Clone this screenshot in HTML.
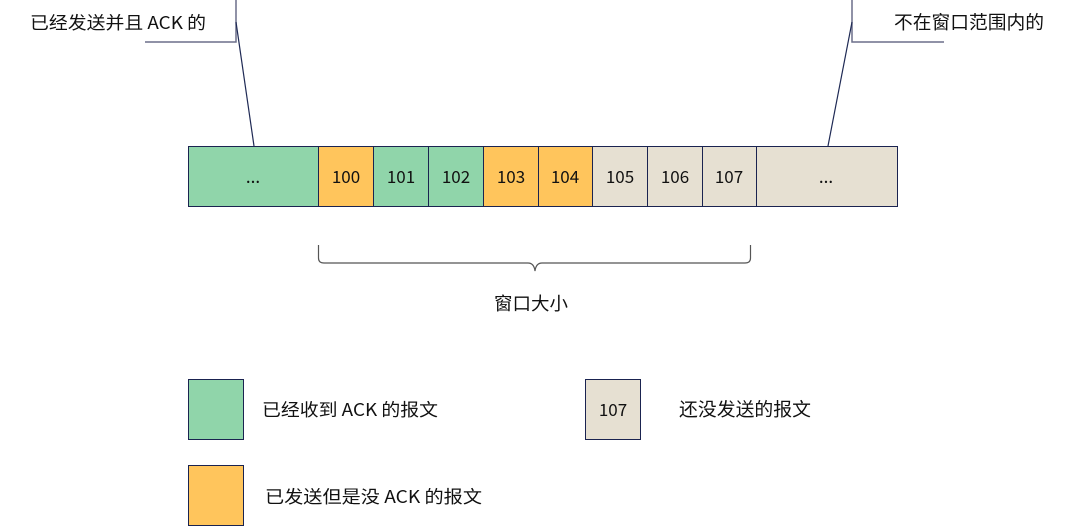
<!DOCTYPE html>
<html><head><meta charset="utf-8"><style>
body{margin:0;width:1088px;height:527px;background:#fff;overflow:hidden;}
</style></head><body>
<svg width="1088" height="527" xmlns="http://www.w3.org/2000/svg" style="position:absolute;left:0;top:0" font-family="Noto Sans CJK SC, Liberation Sans, sans-serif" font-size="18">
<g stroke="#6b6f8a" stroke-width="1.5" fill="none">
<polyline points="145,42 236,42 236,0"/>
<polyline points="944,42 852,42 852,0"/>
</g>
<g stroke="#1f2a55" stroke-width="1.2">
<line x1="236" y1="22" x2="254" y2="146"/>
<line x1="852" y1="22" x2="828" y2="146"/>
</g>
<text x="30" y="29" fill="#111" font-size="17.5" textLength="176" lengthAdjust="spacingAndGlyphs">已经发送并且 ACK 的</text>
<text x="894" y="29" fill="#111" font-size="18.5" textLength="150" lengthAdjust="spacingAndGlyphs">不在窗口范围内的</text>
<g stroke="#1a2350" stroke-width="1">
<rect x="188.5" y="146.5" width="130" height="60" fill="#90d5aa"/>
<rect x="318.5" y="146.5" width="55" height="60" fill="#ffc55c"/>
<rect x="373.5" y="146.5" width="55" height="60" fill="#90d5aa"/>
<rect x="428.5" y="146.5" width="55" height="60" fill="#90d5aa"/>
<rect x="483.5" y="146.5" width="55" height="60" fill="#ffc55c"/>
<rect x="538.5" y="146.5" width="54" height="60" fill="#ffc55c"/>
<rect x="592.5" y="146.5" width="55" height="60" fill="#e6e0d2"/>
<rect x="647.5" y="146.5" width="55" height="60" fill="#e6e0d2"/>
<rect x="702.5" y="146.5" width="54" height="60" fill="#e6e0d2"/>
<rect x="756.5" y="146.5" width="141" height="60" fill="#e6e0d2"/>
<rect x="188.5" y="379.5" width="55" height="60" fill="#90d5aa"/>
<rect x="188.5" y="465.5" width="55" height="60" fill="#ffc55c"/>
<rect x="585.5" y="379.5" width="55" height="60" fill="#e6e0d2"/>
</g>
<g fill="#111" text-anchor="middle" font-size="17">
<text x="253" y="183">...</text>
<text x="346" y="183">100</text>
<text x="401" y="183">101</text>
<text x="456" y="183">102</text>
<text x="511" y="183">103</text>
<text x="565" y="183">104</text>
<text x="620" y="183">105</text>
<text x="675" y="183">106</text>
<text x="729" y="183">107</text>
<text x="826" y="183">...</text>
<text x="613" y="416">107</text>
</g>
<text x="494" y="310" fill="#111" font-size="18" textLength="74" lengthAdjust="spacingAndGlyphs">窗口大小</text>
<path d="M318.5,245 V258 Q318.5,263 324,263 H528 Q534,263 535,271 Q536,263 542,263 H745 Q750.5,263 750.5,258 V245" fill="none" stroke="#555" stroke-width="1.2"/>
<text x="262" y="416" fill="#111" font-size="17.5" textLength="176" lengthAdjust="spacingAndGlyphs">已经收到 ACK 的报文</text>
<text x="265" y="503" fill="#111" font-size="17.5" textLength="217" lengthAdjust="spacingAndGlyphs">已发送但是没 ACK 的报文</text>
<text x="679" y="416" fill="#111" font-size="18.5" textLength="132" lengthAdjust="spacingAndGlyphs">还没发送的报文</text>
</svg>
</body></html>
